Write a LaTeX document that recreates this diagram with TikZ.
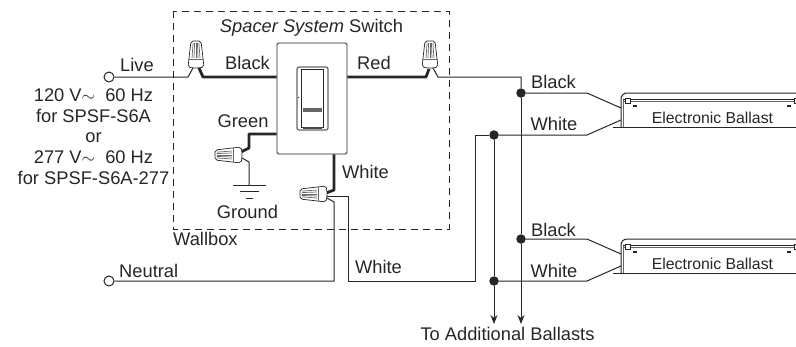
\documentclass[tikz,border=0pt]{standalone}
\usepackage{fontspec}
\setmainfont{Liberation Sans}
\usetikzlibrary{arrows.meta}
\colorlet{ink}{black!85}
\tikzset{
  lbl/.style={inner sep=0pt,anchor=base,text=ink,font=\fontsize{18.3}{20.7}\selectfont},
  smalllbl/.style={lbl,font=\fontsize{15.8}{18}\selectfont},
  wire/.style={draw=ink,line width=1pt,line join=miter},
  thickwire/.style={draw=ink,line width=2.8pt,line join=round},
  terminal/.style={circle,draw=ink,fill=white,line width=1pt,minimum size=10pt,inner sep=0pt},
  junction/.style={circle,fill=ink,minimum size=9.5pt,inner sep=0pt},
}
\begin{document}
\begin{tikzpicture}[x=1pt,y=-1pt]
    \useasboundingbox (0,0) rectangle (796,346);

    % Wallbox
    \draw[ink,line width=.9pt,dash pattern=on 7pt off 5pt] (173,11) rectangle (449,229);

    % Puntos de conexion
    \node[terminal] (live) at (109,77) {};
    \node[terminal] (neutral) at (109,281) {};
    \node[junction] (jblackA) at (521,93) {};
    \node[junction] (jblackB) at (521,239) {};
    \node[junction] (jwhiteA) at (494,135) {};
    \node[junction] (jwhiteB) at (494,281) {};
    \coordinate (endL) at (494,324);
    \coordinate (endR) at (521,324);

    % Placa del interruptor
    \node[draw=ink,line width=.8pt,rounded corners=1.5pt,minimum width=70pt,minimum height=111pt,inner sep=0pt] (plate) at (312,98.5) {};
    \draw[ink!70,line width=1.2pt,rounded corners=2pt] (297,67) rectangle (328,130);
    \draw[ink,line width=.5pt] (301,69) rectangle (323,127);
    \fill[ink!70] (303,108) rectangle (322,112);
    \fill[ink!85] (303,126.5) rectangle (322,129);
    \fill[ink] (298.5,97.5) circle (.7pt);

    % Cables gruesos
    \draw[thickwire] (plate.west |- live) -- (203,77) -- (199,68);
    \draw[thickwire] (plate.east |- live) -- (426,77) -- (429,69);
    \draw[thickwire] (plate.west |- 0,134) -- (249,134) -- (249,148) -- (241,152);
    \draw[thickwire] (plate.south -| 334,0) -- (334,190) -- (326,193);

    % Cables finos
    \draw[wire] (live) -- (188,77) -- (193,68);
    \draw[wire] (433,68) -- (438,77) -- (521,77) -- (jblackA);
    \draw[wire] (jblackA) -- (jblackB);
    \draw[wire] (242,158) -- (249,162) -- (249,185);
    \draw[wire] (neutral) -- (334,281) -- (334,202) -- (327,198);
    \draw[wire] (327,196) -- (348,196) -- (348,281) -- (475,281) -- (475,135) -- (jwhiteA);
    \draw[wire] (jwhiteA) -- (jwhiteB);
    \draw[wire,-{Stealth[length=9pt,width=7pt]}] (jblackB) -- (endR);
    \draw[wire,-{Stealth[length=9pt,width=7pt]}] (jwhiteB) -- (endL);

    % Tierra
    \draw[ink,line width=1pt] (233,185) -- (266,185) (240,191.5) -- (259,191.5) (246,198) -- (253,198);

    % Capuchones
    \foreach \x/\y/\r in {196/68/0,430/68/0,242/155/90,327/194/90}
    {
        \begin{scope}[shift={(\x,\y)},rotate=\r]
            \filldraw[draw=ink,fill=white,line width=.7pt,rounded corners=2pt] (-3,0) -- (-8,-1) -- (-5,-27) -- (5,-27) -- (8,-1) -- (3,0) -- cycle;
            \foreach \k in {-3.2,-1.6,0,1.6,3.2}
                \draw[ink!70,line width=.7pt] (\k*1.25,-10) -- (\k*.9,-25);
            \draw[ink!70,line width=.5pt] (-7,-9) -- (7,-9);
        \end{scope}
    }

    % Balastos
    \foreach \n/\d in {A/0,B/146}
    {
        \begin{scope}[yshift=-\d pt]
            \draw[ink,line width=1pt] (613,127) -- (796,127);
            \draw[ink,line width=1pt,rounded corners=6pt] (621,127) -- (621,93) -- (800,93);
            \draw[ink!70,line width=.7pt] (623.5,127) -- (623.5,100);
            \draw[ink,line width=.7pt] (623,99) -- (796,99);
            \draw[ink!70,line width=.7pt] (623,101.5) -- (796,101.5);
            \filldraw[draw=ink,fill=white,line width=.6pt] (625,98) rectangle (630,103);
            \filldraw[draw=ink,fill=white,line width=.6pt] (794,98) rectangle (799,103);
            \fill[ink] (633,105) rectangle (637,106.5);
            \fill[ink] (787,105) rectangle (791,106.5);
            \node[smalllbl] (ballast\n) at (712.5,123) {Electronic Ballast};
            \coordinate (bendK\n) at (587,93);
            \coordinate (bendW\n) at (587,135);
            \coordinate (inK\n) at (621,108);
            \coordinate (inW\n) at (621,120);
        \end{scope}
    }
    \draw[wire] (jblackA) -- (bendKA) -- (inKA);
    \draw[wire] (jblackB) -- (bendKB) -- (inKB);
    \draw[wire] (jwhiteA) -- (bendWA) -- (inWA);
    \draw[wire] (jwhiteB) -- (bendWB) -- (inWB);

    % Textos
    \node[lbl] (title) at (311.5,32) {\textit{Spacer System} Switch};
    \node[lbl] (lblack) at (247.5,69) {Black};
    \node[lbl] (lred) at (374,69) {Red};
    \node[lbl] (lgreen) at (243,127) {Green};
    \node[lbl] (lwhite) at (365.5,178) {White};
    \node[lbl] (lground) at (247.5,218) {Ground};
    \node[lbl,anchor=base west] (lwallbox) at (173,245) {Wallbox};
    \node[lbl,anchor=base west] (llive) at (120,71) {Live};
    \node[lbl,anchor=base west] (lneutral) at (119,277) {Neutral};
    \node[lbl] (lwhitebox) at (378.5,273) {White};
    \node[lbl] (lblackA) at (553.5,88) {Black};
    \node[lbl] (lwhiteA) at (554,130) {White};
    \node[lbl] (lblackB) at (553.5,236) {Black};
    \node[lbl] (lwhiteB) at (554,277) {White};
    \node[lbl] (lmore) at (507.5,340) {To Additional Ballasts};
    \node[lbl] (v1) at (93.5,101) {120 V$\sim$\ \ 60 Hz};
    \node[lbl] (v2) at (93.5,122) {for SPSF-S6A};
    \node[lbl] (v3) at (93.5,142) {or};
    \node[lbl] (v4) at (93.5,163.5) {277 V$\sim$\ \ 60 Hz};
    \node[lbl] (v5) at (93.5,184) {for SPSF-S6A-277};
\end{tikzpicture}
\end{document}
